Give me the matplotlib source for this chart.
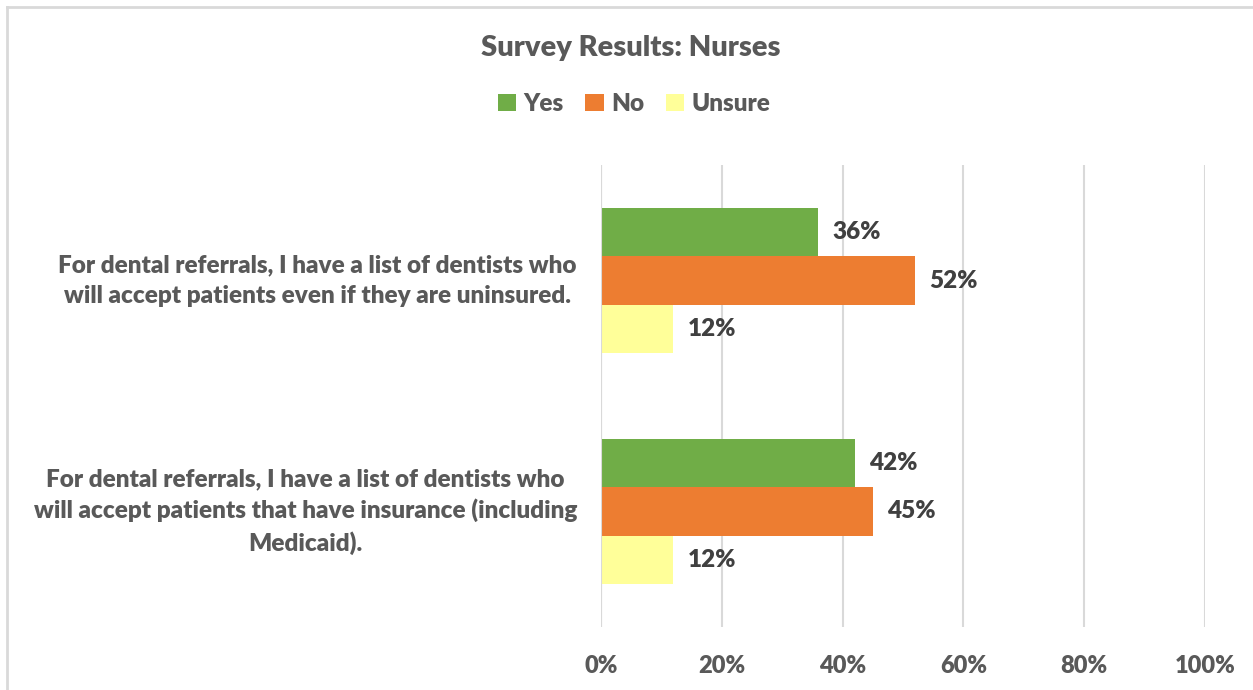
import matplotlib
matplotlib.use("Agg")
import matplotlib.pyplot as plt
from matplotlib.patches import Patch
from matplotlib.lines import Line2D

plt.rcParams['font.family'] = ['Lato', 'DejaVu Sans']
WT = "heavy"

categories = [
    "For dental referrals, I have a list of dentists who\nwill accept patients that have insurance (including\nMedicaid).",
    "For dental referrals, I have a list of dentists who\nwill accept patients even if they are uninsured.",
]
series_names = ["Yes", "No", "Unsure"]
yes_vals = [0.42, 0.36]
no_vals = [0.45, 0.52]
unsure_vals = [0.12, 0.12]
x_ticks = [0, 0.2, 0.4, 0.6, 0.8, 1.0]
x_tick_labels = ["0%", "20%", "40%", "60%", "80%", "100%"]

colors = ["#70AD47", "#ED7D31", "#FFFF99"]
W, H = 1253, 690
fig = plt.figure(figsize=(W / 100, H / 100), dpi=100)
ax = fig.add_axes([601 / W, 1 - 627 / H, (1205 - 601) / W, (627 - 165) / H])

bh = 0.209
offsets = [bh, 0, -bh]
for vals, off, col in zip([yes_vals, no_vals, unsure_vals], offsets, colors):
    ys = [i + off for i in range(len(categories))]
    ax.barh(ys, vals, height=bh, color=col, zorder=3)
    for y, v in zip(ys, vals):
        ax.annotate(f"{round(v * 100):d}%", (v, y), xytext=(14, 0), textcoords="offset pixels",
                    ha="left", va="center", fontsize=17.5, fontweight=WT, color="#404040")

ax.set_xlim(0, 1.0)
ax.set_ylim(-0.5, 1.5)
ax.set_xticks(x_ticks)
ax.set_xticklabels(x_tick_labels)
ax.set_yticks(range(len(categories)))
ax.set_yticklabels([])
ax.tick_params(axis="x", length=0, pad=20, labelsize=17, labelcolor="#595959")
ax.tick_params(axis="y", length=0)
for lab in ax.get_xticklabels():
    lab.set_fontweight(WT)
for i, cat in enumerate(categories):
    ax.annotate(cat, (0, i), xytext=(-24, 0), textcoords="offset pixels", ha="right", va="center",
                multialignment="center", linespacing=1.45, fontsize=17.5, fontweight=WT,
                color="#595959", annotation_clip=False)
ax.grid(axis="x", color="#D9D9D9", linewidth=1.5, zorder=0)
for s in ax.spines.values():
    s.set_visible(False)
ax.axvline(0, color="#D9D9D9", linewidth=1.5, zorder=4)

fig.text(631 / W, 1 - 48 / H, "Survey Results: Nurses", ha="center", va="center",
         fontsize=21, fontweight=WT, color="#595959")

handles = [Patch(facecolor=c, edgecolor="none") for c in colors]
leg = fig.legend(handles, series_names, loc="center", bbox_to_anchor=(634 / W, 1 - 104 / H),
                 ncol=3, frameon=False, handlelength=0.75, handleheight=0.75, handletextpad=0.3,
                 columnspacing=0.9, prop={"weight": WT, "size": 17.5})
for t in leg.get_texts():
    t.set_color("#595959")

# chart border
fig.add_artist(Line2D([7 / W, 7 / W], [0, 1 - 7 / H], transform=fig.transFigure, color="#D9D9D9", linewidth=2))
fig.add_artist(Line2D([7 / W, 1], [1 - 7 / H, 1 - 7 / H], transform=fig.transFigure, color="#D9D9D9", linewidth=2))

fig.savefig("out.png", dpi=100, facecolor="white")
